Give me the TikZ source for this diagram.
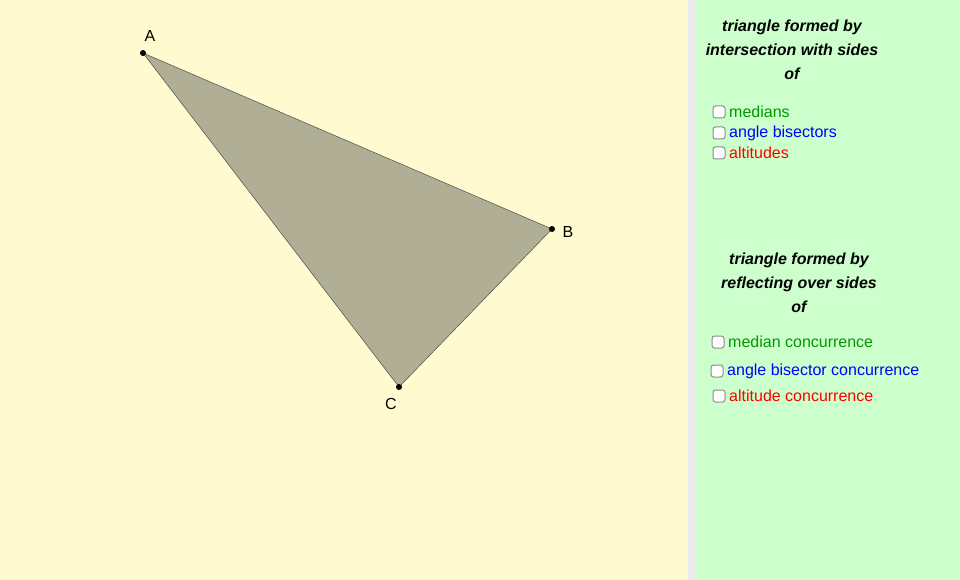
\documentclass[tikz,border=0pt]{standalone}
\usepackage{fontspec}
\setmainfont{Liberation Sans}
\definecolor{bgy}{RGB}{255,250,208}
\definecolor{bgg}{RGB}{204,255,204}
\definecolor{tri}{RGB}{176,175,150}
\definecolor{gmed}{RGB}{0,153,0}
\tikzset{x=1pt,y=-1pt,
 pt/.style={circle,fill=black,inner sep=0pt,minimum size=6pt},
 lbl/.style={font=\fontsize{16}{18}\selectfont},
 head/.style={font=\fontsize{16}{24}\selectfont\bfseries\itshape,align=center},
 cb/.style={draw=gray!90,fill=white,rounded corners=2.5pt,line width=1pt,minimum size=12pt,inner sep=0pt},
 item/.style={font=\fontsize{16}{18}\selectfont,anchor=west,inner sep=1pt}}
\begin{document}
\begin{tikzpicture}
\useasboundingbox (0,0) rectangle (960,580);
\fill[bgy] (0,0) rectangle (688,580);
\fill[gray!15] (688,0) rectangle (695,580);
\fill[bgg] (695,0) rectangle (960,580);
\coordinate (A) at (143,53);
\coordinate (B) at (552,229);
\coordinate (C) at (399,387);
\filldraw[fill=tri,draw=black!70,line width=0.5pt] (A)--(B)--(C)--cycle;
\node[pt] (pa) at (A) {};
\node[pt] (pb) at (B) {};
\node[pt] (pc) at (C) {};
\node[lbl] (la) at (150,36) {A};
\node[lbl] (lb) at (568,232) {B};
\node[lbl] (lc) at (391,404) {C};
\node[head] (h1) at (792,50) {triangle formed by\\intersection with sides\\of};
\node[cb] (c1) at (719,112) {}; \node[item,text=gmed] (t1) at (728,112) {medians};
\node[cb] (c2) at (719,133) {}; \node[item,text=blue] (t2) at (728,133) {angle bisectors};
\node[cb] (c3) at (719,153) {}; \node[item,text=red] (t3) at (728,153) {altitudes};
\node[head] (h2) at (799,283) {triangle formed by\\reflecting over sides\\of};
\node[cb] (c4) at (718,342) {}; \node[item,text=gmed] (t4) at (727,342) {median concurrence};
\node[cb] (c5) at (717,371) {}; \node[item,text=blue] (t5) at (726,371) {angle bisector concurrence};
\node[cb] (c6) at (719,396) {}; \node[item,text=red] (t6) at (728,396) {altitude concurrence};
\end{tikzpicture}
\end{document}
